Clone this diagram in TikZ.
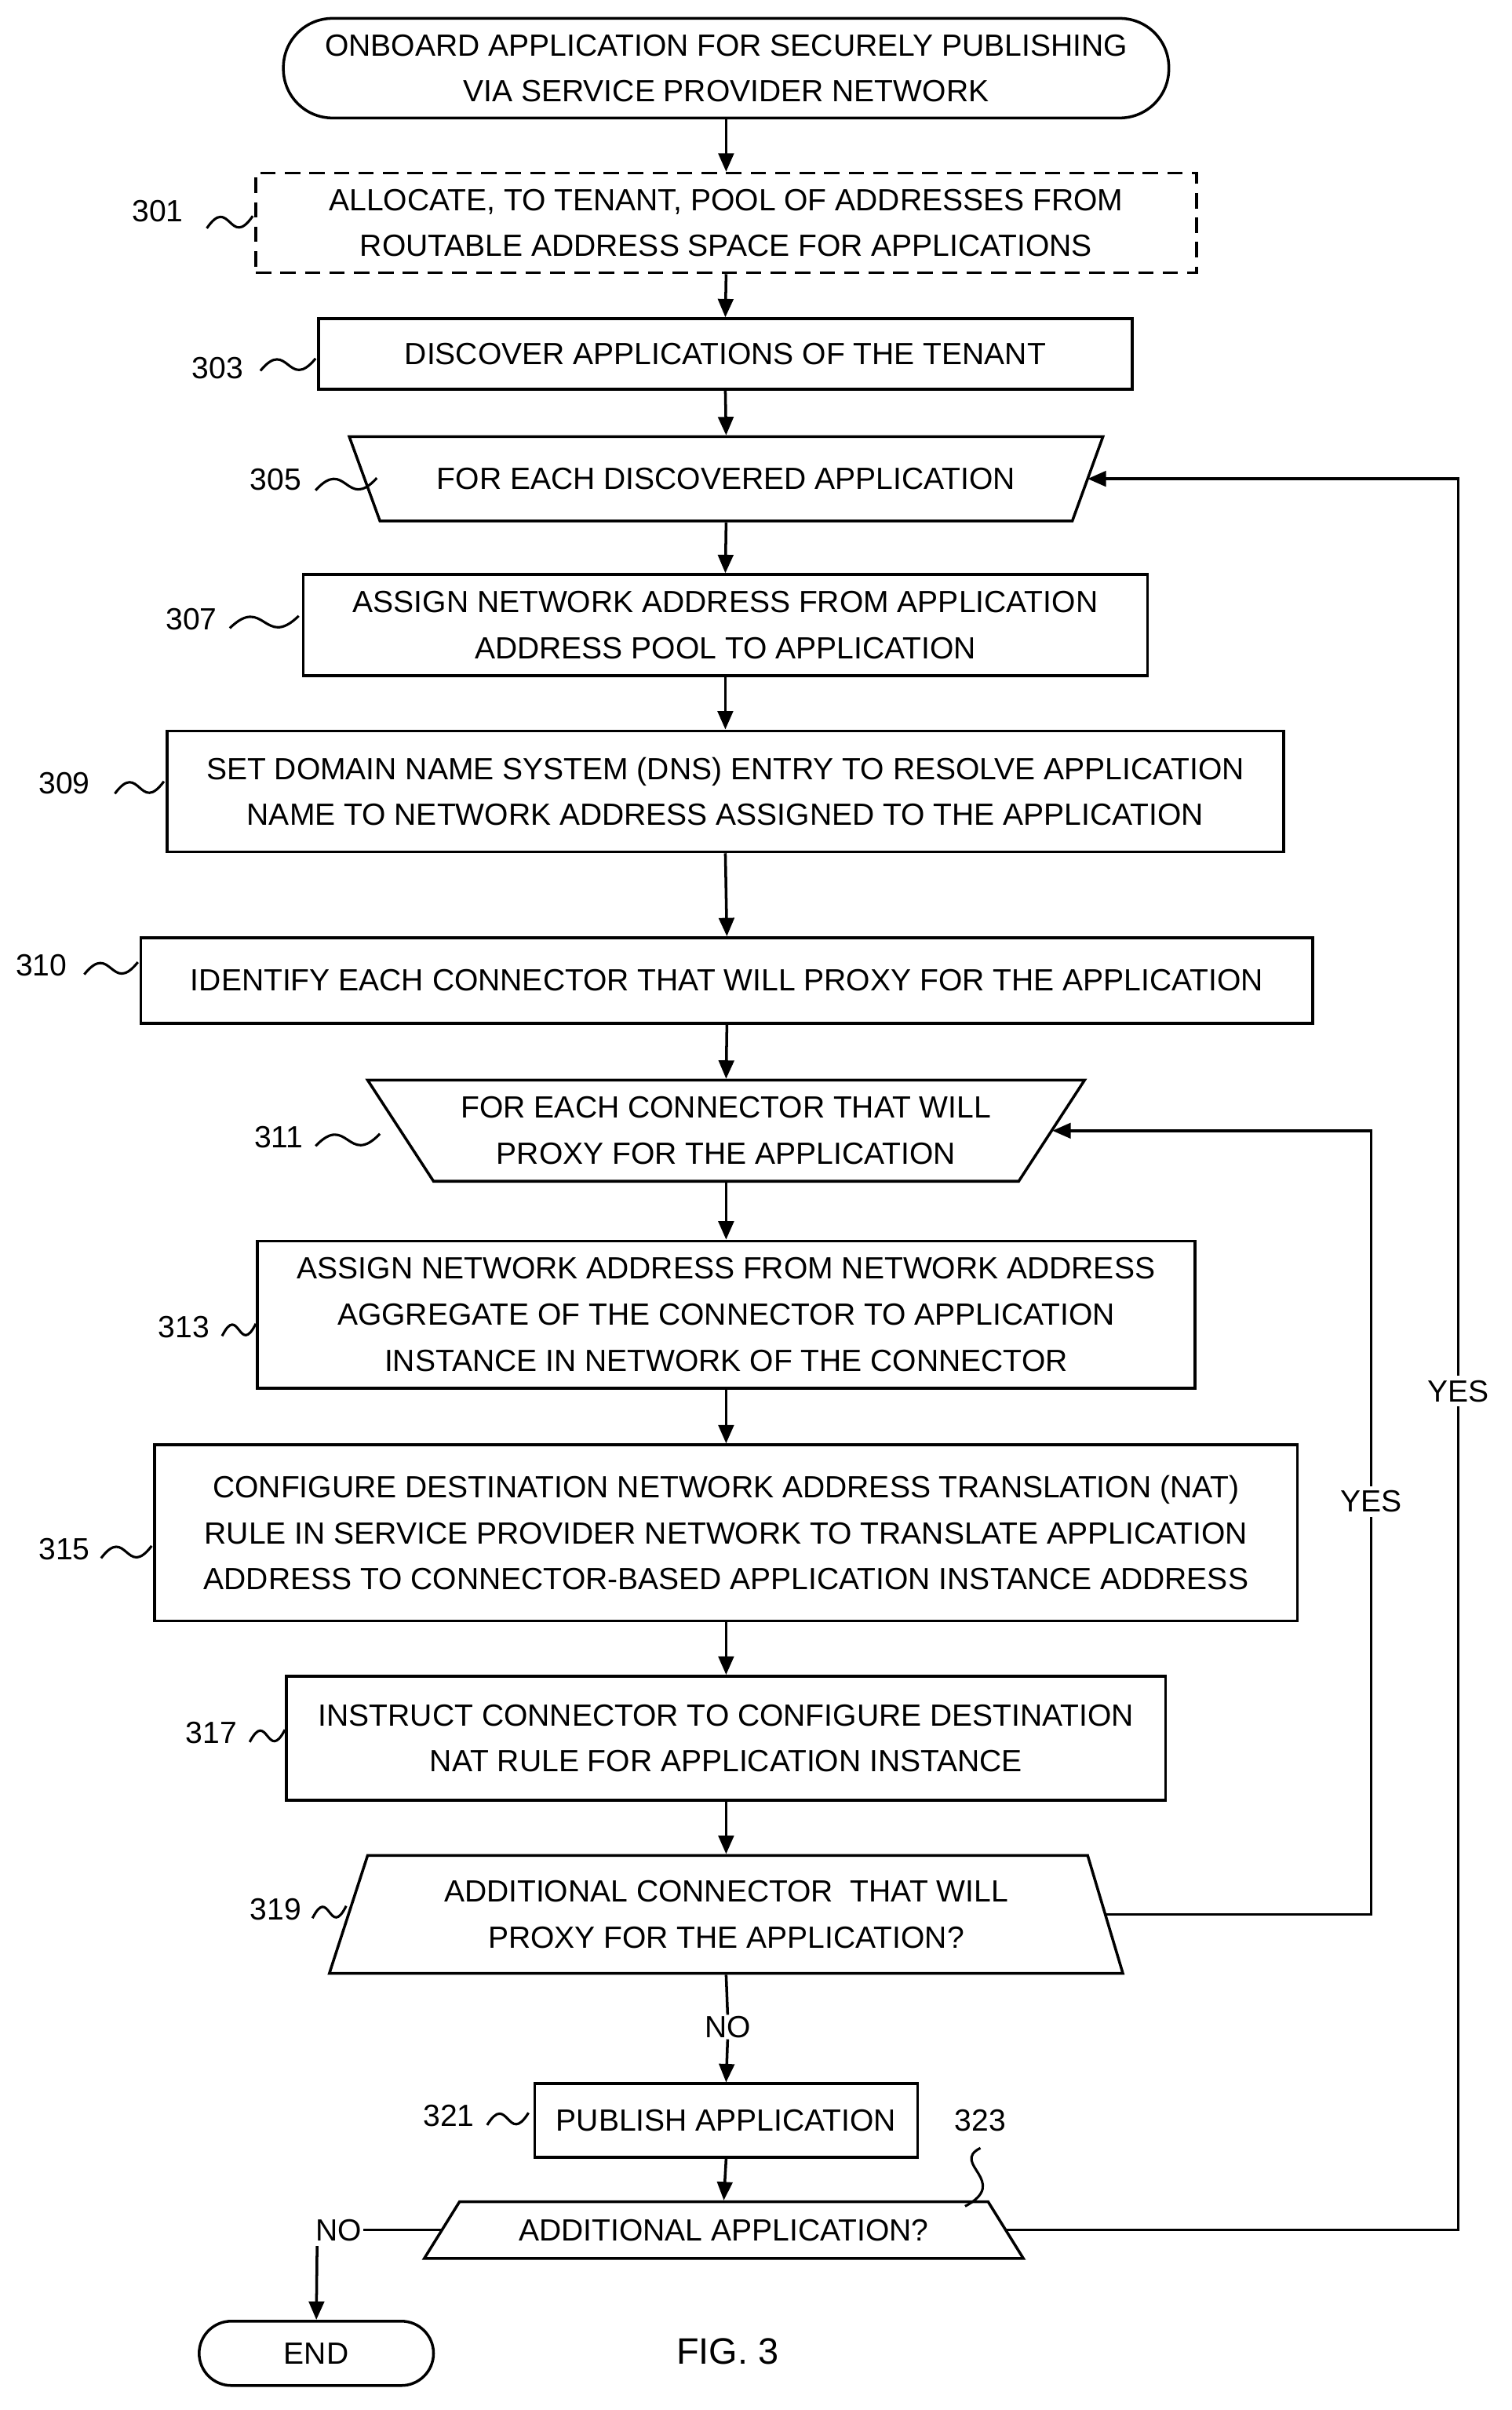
\documentclass[tikz,border=0pt]{standalone}
\usepackage{fontspec}
\setmainfont{Liberation Sans}
\usetikzlibrary{arrows.meta}
\begin{document}
\begin{tikzpicture}[x=1pt,y=-1pt,
  line width=1.8pt,
  every node/.style={font=\fontsize{20}{30}\selectfont, align=center, inner sep=0pt},
  box/.style={draw, line width=1.8pt},
  arr/.style={-{Triangle[length=12pt,width=10pt]}},
  lab/.style={font=\fontsize{20}{24}\selectfont}]
\useasboundingbox (0,0) rectangle (987,1573);
\newcommand{\sq}[3]{\draw[line width=1.6pt] (#1,#3+4) .. controls ({(#1+#2)/2},#3-18) and ({(#1+#2)/2},#3+18) .. (#2,#3-4);}
% boxes
\node[box, rounded corners=32pt, minimum width=578pt, minimum height=65pt] (start) at (474,44.5) {ONBOARD APPLICATION FOR SECURELY PUBLISHING\\VIA SERVICE PROVIDER NETWORK};
\node[box, dashed, dash pattern=on 10pt off 6pt, minimum width=614pt, minimum height=65pt] (b301) at (474,145.5) {ALLOCATE, TO TENANT, POOL OF ADDRESSES FROM\\ROUTABLE ADDRESS SPACE FOR APPLICATIONS};
\node[box, minimum width=531pt, minimum height=46pt] (b303) at (473.5,231) {DISCOVER APPLICATIONS OF THE TENANT};
\node[minimum width=492pt, minimum height=55pt] (b305) at (474,312.5) {FOR EACH DISCOVERED APPLICATION};
\draw (228,285) -- (720,285) -- (700,340) -- (248,340) -- cycle;
\node[box, minimum width=551pt, minimum height=66pt] (b307) at (473.5,408) {ASSIGN NETWORK ADDRESS FROM APPLICATION\\ADDRESS POOL TO APPLICATION};
\node[box, minimum width=729pt, minimum height=79pt] (b309) at (473.5,516.5) {SET DOMAIN NAME SYSTEM (DNS) ENTRY TO RESOLVE APPLICATION\\NAME TO NETWORK ADDRESS ASSIGNED TO THE APPLICATION};
\node[box, minimum width=765pt, minimum height=56pt] (b310) at (474.5,640) {IDENTIFY EACH CONNECTOR THAT WILL PROXY FOR THE APPLICATION};
\node[minimum width=468pt, minimum height=66pt] (b311) at (474,738) {FOR EACH CONNECTOR THAT WILL\\PROXY FOR THE APPLICATION};
\draw (240,705) -- (708,705) -- (665,771) -- (283,771) -- cycle;
\node[box, minimum width=612pt, minimum height=96pt] (b313) at (474,858) {ASSIGN NETWORK ADDRESS FROM NETWORK ADDRESS\\AGGREGATE OF THE CONNECTOR TO APPLICATION\\INSTANCE IN NETWORK OF THE CONNECTOR};
\node[box, minimum width=746pt, minimum height=115pt] (b315) at (474,1000.5) {CONFIGURE DESTINATION NETWORK ADDRESS TRANSLATION (NAT)\\RULE IN SERVICE PROVIDER NETWORK TO TRANSLATE APPLICATION\\ADDRESS TO CONNECTOR-BASED APPLICATION INSTANCE ADDRESS};
\node[box, minimum width=574pt, minimum height=81pt] (b317) at (474,1134.5) {INSTRUCT CONNECTOR TO CONFIGURE DESTINATION\\NAT RULE FOR APPLICATION INSTANCE};
\node[minimum width=470pt, minimum height=77pt] (b319) at (474,1249.5) {ADDITIONAL CONNECTOR\ \ THAT WILL\\PROXY FOR THE APPLICATION?};
\draw (240,1211) -- (710,1211) -- (733,1288) -- (215,1288) -- cycle;
\node (no1) at (475,1323) {NO};
\node[box, minimum width=250pt, minimum height=48pt] (b321) at (474,1384) {PUBLISH APPLICATION};
\node[minimum width=345pt, minimum height=37pt] (b323) at (472.5,1455.5) {ADDITIONAL APPLICATION?};
\draw (300,1437) -- (645,1437) -- (668,1474) -- (277,1474) -- cycle;
\node[box, rounded corners=21pt, minimum width=153pt, minimum height=42pt] (end) at (206.5,1536) {END};
\node[font=\fontsize{24}{28}\selectfont] (fig) at (475,1535) {FIG. 3};
% main arrows
\draw[arr] (start.south) -- (b301.north);
\draw[arr] (b301.south) -- (b303.north);
\draw[arr] (b303.south) -- (b305.north);
\draw[arr] (b305.south) -- (b307.north);
\draw[arr] (b307.south) -- (b309.north);
\draw[arr] (b309.south) -- (b310.north);
\draw[arr] (b310.south) -- (b311.north);
\draw[arr] (b311.south) -- (b313.north);
\draw[arr] (b313.south) -- (b315.north);
\draw[arr] (b315.south) -- (b317.north);
\draw[arr] (b317.south) -- (b319.north);
\draw (b319.south) -- (no1.north);
\draw[arr] (no1.south) -- (b321.north);
\draw[arr] (b321.south) -- (b323.north);
% loops
\coordinate (r319) at (721,1249.5);
\coordinate (r311) at (687,738);
\draw[arr] (r319) -- (895,1249.5) -- (895,738) -- (r311);
\node[fill=white, inner sep=3pt] (yes1) at (895,980) {YES};
\coordinate (r323) at (656,1455.5);
\coordinate (r305) at (710,312.5);
\draw[arr] (r323) -- (952,1455.5) -- (952,312.5) -- (r305);
\node[fill=white, inner sep=3pt] (yes2) at (952,908) {YES};
\coordinate (l323) at (289,1455.5);
\node (no2) at (221,1455.5) {NO};
\draw (l323) -- (no2.east);
\draw[arr] (207,1466) -- (end.north);
% labels
\node[lab] (l301) at (103,138) {301}; \sq{135}{165}{145}
\node[lab] (l303) at (142,240) {303}; \sq{170}{206}{238}
\node[lab] (l305) at (180,313) {305}; \sq{206}{246}{316}
\node[lab] (l307) at (125,404) {307}; \sq{150}{195}{406}
\node[lab] (l309) at (42,511) {309}; \sq{75}{107}{514}
\node[lab] (l310) at (27,630) {310}; \sq{55}{90}{632}
\node[lab] (l311) at (182,742) {311}; \sq{206}{248}{744}
\node[lab] (l313) at (120,866) {313}; \sq{145}{167}{868}
\node[lab] (l315) at (42,1011) {315}; \sq{66}{99}{1013}
\node[lab] (l317) at (138,1131) {317}; \sq{163}{186}{1133}
\node[lab] (l319) at (180,1246) {319}; \sq{204}{226}{1248}
\node[lab] (l321) at (293,1381) {321}; \sq{318}{345}{1383}
\node[lab] (l323) at (640,1384) {323};
\draw[line width=1.6pt] (640,1402) .. controls (620,1412) and (660,1424) .. (630,1440);
\end{tikzpicture}
\end{document}
